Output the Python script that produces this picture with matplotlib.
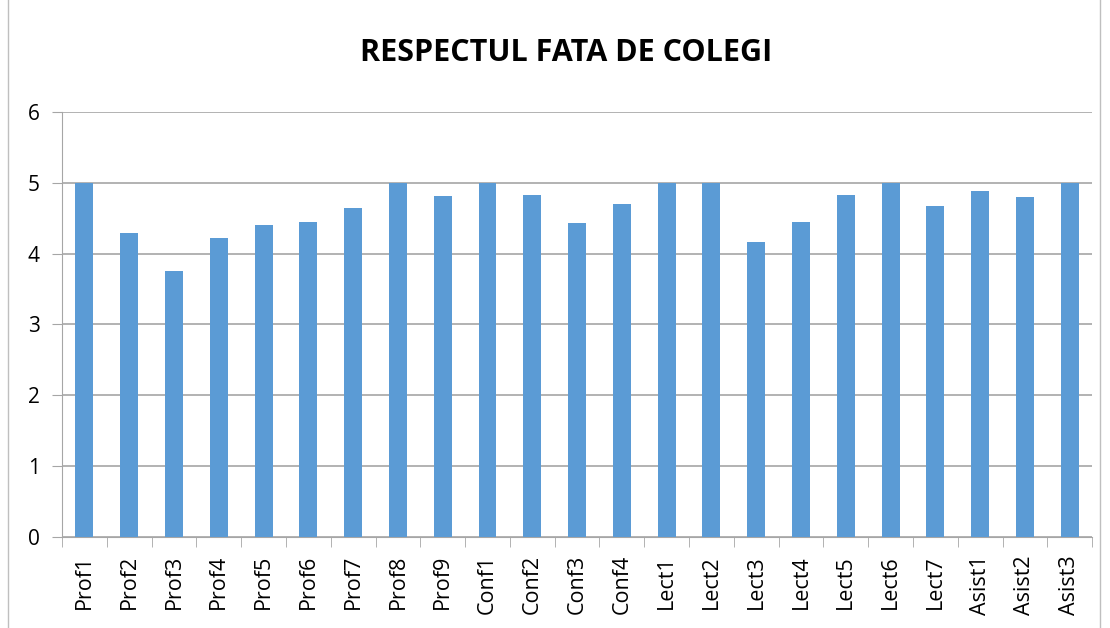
import matplotlib
matplotlib.use("Agg")
import matplotlib.pyplot as plt
from matplotlib.lines import Line2D
import numpy as np

# date
categorii = ["Prof1", "Prof2", "Prof3", "Prof4", "Prof5", "Prof6", "Prof7", "Prof8", "Prof9",
             "Conf1", "Conf2", "Conf3", "Conf4",
             "Lect1", "Lect2", "Lect3", "Lect4", "Lect5", "Lect6", "Lect7",
             "Asist1", "Asist2", "Asist3"]
valori = [5.0, 4.29, 3.75, 4.22, 4.40, 4.45, 4.64, 5.0, 4.82,
          5.0, 4.83, 4.43, 4.70,
          5.0, 5.0, 4.17, 4.45, 4.83, 5.0, 4.67,
          4.88, 4.80, 5.0]
yticks = [0, 1, 2, 3, 4, 5, 6]
titlu = "RESPECTUL FATA DE COLEGI"

plt.rcParams['font.family'] = ['Open Sans', 'DejaVu Sans']

fig = plt.figure(figsize=(11.1, 6.28), dpi=100)
ax = fig.add_axes([0.0559, 0.1449, 0.928, 0.6768])

x = np.arange(len(categorii))
ax.bar(x, valori, width=0.4, color="#5B9BD5", zorder=3)

ax.set_xlim(-0.5, len(categorii) - 0.5)
ax.set_ylim(0, 6)
ax.set_yticks(yticks)
ax.yaxis.grid(True, color="#A6A6A6", linewidth=1.2, zorder=0)
ax.tick_params(axis="y", length=7, color="#A6A6A6", labelsize=15, pad=9)

# etichete pe categorii, taieturi intre categorii
ax.set_xticks(x)
ax.set_xticklabels(categorii, rotation=90, fontsize=15.5)
ax.tick_params(axis="x", length=0, pad=13)
ax.set_xticks(np.arange(-0.5, len(categorii), 1), minor=True)
ax.tick_params(axis="x", which="minor", length=7, color="#A6A6A6")

for s in ["top", "right"]:
    ax.spines[s].set_visible(False)
ax.spines["left"].set_color("#A6A6A6")
ax.spines["bottom"].set_color("#A6A6A6")

fig.text(0.51, 0.915, titlu, ha="center", va="center", fontsize=22, fontweight="bold")

# chenar exterior
fig.add_artist(Line2D([0.0075, 0.0075], [0, 1], color="#BFBFBF", linewidth=1, transform=fig.transFigure))
fig.add_artist(Line2D([0.991, 0.991], [0, 1], color="#BFBFBF", linewidth=1, transform=fig.transFigure))

fig.savefig("out.png", dpi=100)
